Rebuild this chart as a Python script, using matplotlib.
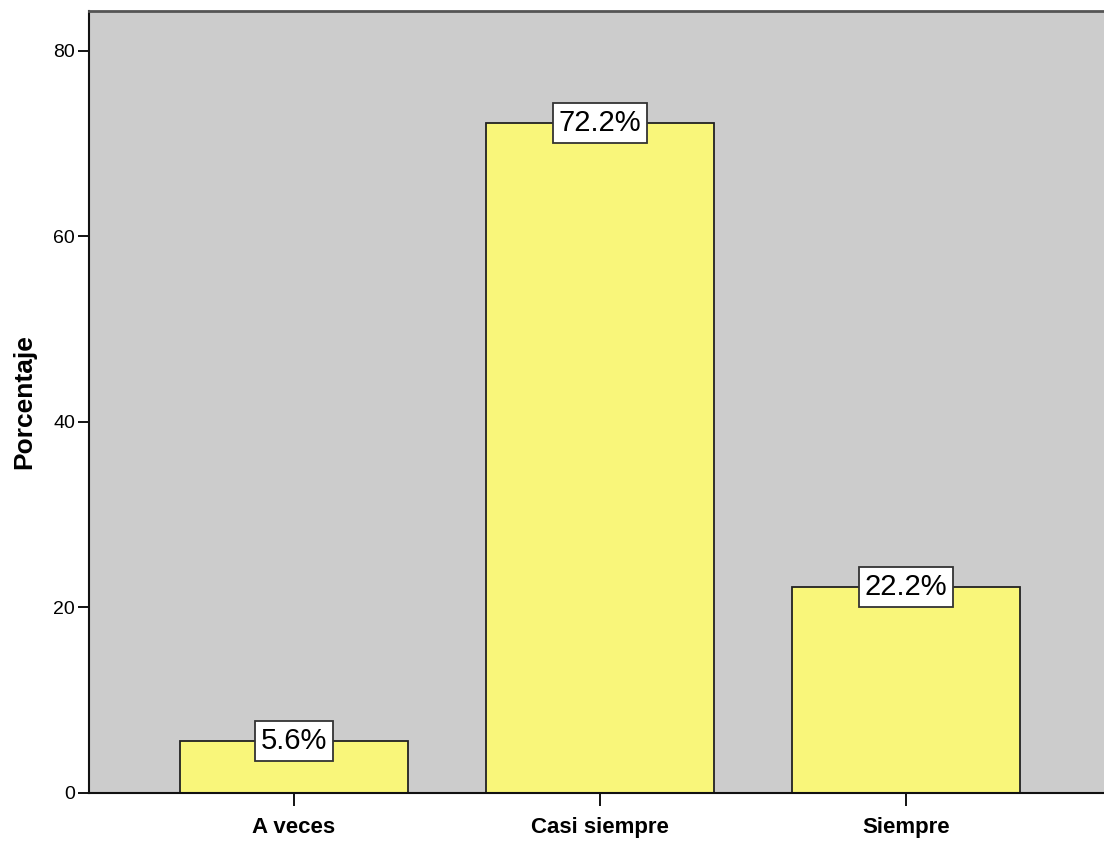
import matplotlib.pyplot as plt

categories = ['A veces', 'Casi siempre', 'Siempre']
percentages = [5.6, 72.2, 22.2]
y_ticks = [0, 20, 40, 60, 80]

plt.rcParams['font.family'] = ['Liberation Sans', 'DejaVu Sans']

fig = plt.figure(figsize=(11.04, 8.41), dpi=100)
ax = fig.add_axes([0.0806, 0.0571, 0.9194, 0.9298])
ax.set_facecolor('#CCCCCC')

x = range(len(categories))
ax.bar(x, percentages, width=0.748, color='#F9F67A', edgecolor='#222222', linewidth=1.3, zorder=2)

# value labels in white boxes at the top of each bar
for xi, val in zip(x, percentages):
    ax.text(xi, val, f'{val:.1f}%', ha='center', va='center', fontsize=21, zorder=3,
            fontweight='medium',
            bbox=dict(boxstyle='square,pad=0.2', facecolor='white', edgecolor='#333333', linewidth=1.3))

ax.set_xlim(-0.67, 2.647)
ax.set_ylim(0, 84.3)
ax.set_xticks(list(x))
ax.set_xticklabels(categories, fontsize=16, fontweight='bold')
ax.set_yticks(y_ticks)
ax.set_yticklabels([str(t) for t in y_ticks], fontsize=14)
ax.tick_params(axis='x', length=9, width=1.3, pad=8)
ax.tick_params(axis='y', length=8, width=1.3, pad=2)
ax.set_ylabel('Porcentaje', fontsize=19, fontweight='bold', labelpad=12)

for side in ['left', 'bottom']:
    ax.spines[side].set_linewidth(1.5)
    ax.spines[side].set_color('#111111')
ax.spines['top'].set_linewidth(2)
ax.spines['top'].set_color('#555555')
ax.spines['right'].set_visible(False)

fig.savefig('out.png', dpi=100)
